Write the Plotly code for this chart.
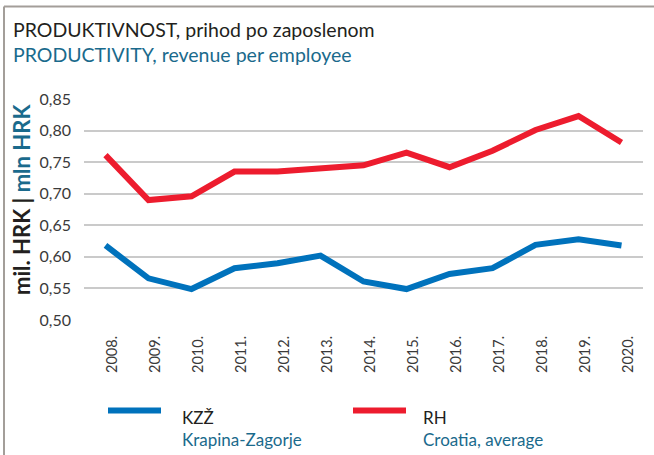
import plotly.graph_objects as go

years = ["2008.", "2009.", "2010.", "2011.", "2012.", "2013.", "2014.",
         "2015.", "2016.", "2017.", "2018.", "2019.", "2020."]
kzz = [0.618, 0.566, 0.549, 0.582, 0.590, 0.602, 0.561,
       0.549, 0.573, 0.582, 0.619, 0.628, 0.618]
rh = [0.761, 0.690, 0.696, 0.735, 0.735, 0.740, 0.745,
      0.765, 0.742, 0.768, 0.801, 0.823, 0.781]
y_ticks = [0.50, 0.55, 0.60, 0.65, 0.70, 0.75, 0.80, 0.85]

BLUE = "#0072BC"
RED = "#ED1C2E"
TEAL = "#1A6A8C"
FONT = "Lato"

W, H = 654, 455
ml, mr, mt, mb = 84, 11, 99, 135
pw, ph = W - ml - mr, H - mt - mb

def px(x):
    return (x - ml) / pw

def py(y):
    return (H - mb - y) / ph

fig = go.Figure()
fig.add_trace(go.Scatter(x=years, y=kzz, mode="lines", name="KZŽ",
                         line=dict(color=BLUE, width=6), showlegend=False))
fig.add_trace(go.Scatter(x=years, y=rh, mode="lines", name="RH",
                         line=dict(color=RED, width=6), showlegend=False))

shapes = [
    # frame lines (top and left)
    dict(type="line", xref="paper", yref="paper", x0=px(4), x1=px(654),
         y0=py(6.5), y1=py(6.5), layer="above",
         line=dict(color="#A39E99", width=2)),
    dict(type="line", xref="paper", yref="paper", x0=px(4), x1=px(4),
         y0=py(6.5), y1=py(455), layer="above",
         line=dict(color="#A39E99", width=2)),
    # legend lines
    dict(type="line", xref="paper", yref="paper", x0=px(108), x1=px(161),
         y0=py(410.5), y1=py(410.5), line=dict(color=BLUE, width=6)),
    dict(type="line", xref="paper", yref="paper", x0=px(353), x1=px(406),
         y0=py(410.5), y1=py(410.5), line=dict(color=RED, width=6)),
]

def ann(x, y, text, size, color, xanchor="left", yanchor="middle", angle=0):
    return dict(xref="paper", yref="paper", x=px(x), y=py(y), text=text,
                showarrow=False, xanchor=xanchor, yanchor=yanchor,
                textangle=angle, font=dict(family=FONT, size=size, color=color))

annotations = [
    ann(11, 29, "PRODUKTIVNOST, prihod po zaposlenom", 19.5, "#231F20"),
    ann(11, 54, "PRODUCTIVITY, revenue per employee", 19.5, TEAL),
    ann(21, 200, "<b>mil. HRK | </b><b><span style='color:%s'>mln HRK</span></b>" % TEAL,
        22, "#231F20", xanchor="center", angle=-90),
    ann(180, 417, "KZŽ", 17, "#231F20"),
    ann(180, 440, "Krapina-Zagorje", 17, TEAL),
    ann(421, 417, "RH", 17, "#231F20"),
    ann(421, 440, "Croatia, average", 17, TEAL),
]

fig.update_layout(
    width=W, height=H,
    margin=dict(l=ml, r=mr, t=mt, b=mb),
    paper_bgcolor="white", plot_bgcolor="white",
    separators=", ",
    font=dict(family=FONT, size=14, color="#3A3A3A"),
    shapes=shapes, annotations=annotations,
    xaxis=dict(type="category", range=[-0.5, 12.5], tickangle=-90,
               showgrid=False, zeroline=False, showline=False, ticks="",
               automargin=False,
               tickfont=dict(size=14.5, color="#3A3A3A"),
               ticklabelstandoff=12, ticklabelshift=7),
    yaxis=dict(range=[0.5, 0.85], tickvals=y_ticks, tickformat=".2f",
               showgrid=True, gridcolor="#CACACA", gridwidth=1.5,
               zeroline=False, showline=False, ticks="", automargin=False,
               tickfont=dict(size=16, color="#3A3A3A"), ticklabelstandoff=12),
)

fig.write_html("out.html", config={"displayModeBar": False},
               post_script="document.body.style.margin='0';document.body.style.overflow='hidden';")
